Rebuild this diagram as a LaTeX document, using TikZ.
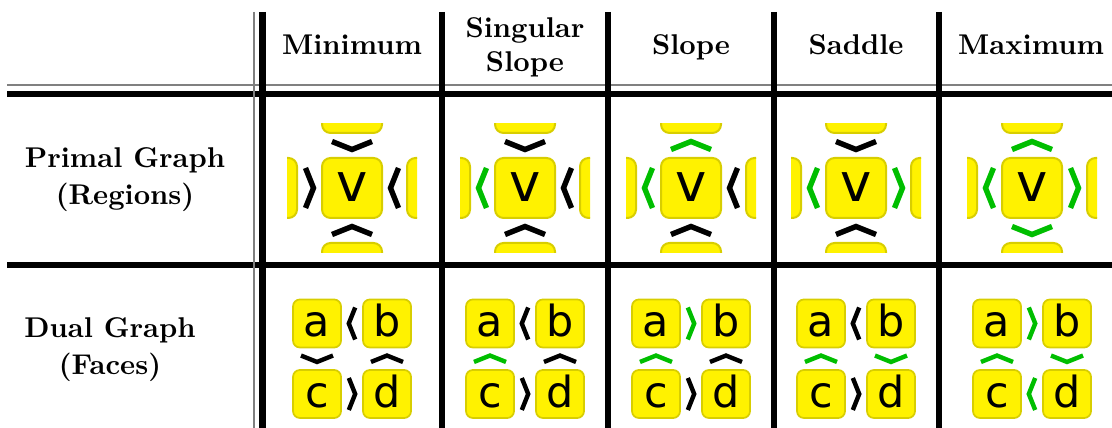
\documentclass[tikz,border=0pt]{standalone}
\usepackage{fontspec}
\newfontfamily\vfont{DejaVu Sans}
\usetikzlibrary{calc}

\definecolor{chevgreen}{RGB}{0,190,0}
\definecolor{boxedge}{RGB}{216,206,0}

% chevron at a point: base angle points towards the centre, flag 1 turns it round (green)
\newcommand{\drawchev}[4]{%
  \ifnum#3=1 \def\chevcol{chevgreen}\else\def\chevcol{black}\fi
  \draw[draw=\chevcol,shift={(#1)},rotate=#2+180*#3,#4] (-20,-4) -- (0,4) -- (20,-4);}

\begin{document}
\begin{tikzpicture}[x=0.35pt,y=-0.35pt,
  vbox/.style={draw=boxedge,fill=yellow,line width=0.7pt,rounded corners=3pt,
    minimum size=21pt,inner sep=0pt,text height=9.8pt,text depth=0pt,
    font=\vfont\fontsize{18.5}{20}\selectfont},
  fbox/.style={draw=boxedge,fill=yellow,line width=0.6pt,rounded corners=2.4pt,
    minimum size=16.8pt,inner sep=0pt,text height=9.45pt,text depth=0pt,
    font=\vfont\fontsize{15}{18}\selectfont},
  pchev/.style={line width=1.9pt},
  dchev/.style={line width=1.55pt,scale=0.8},
  thick rule/.style={line width=2.2pt},
  thin rule/.style={gray,line width=0.45pt},
  head/.style={font=\bfseries,anchor=base},
  rowlabel/.style={font=\bfseries,align=center}]
\useasboundingbox (0,0) rectangle (1112,428);

  %% righe e colonne della tabella
  \draw[thin rule] (7,85) -- (1112,85);
  \draw[thick rule] (7,94) -- (1112,94);
  \draw[thick rule] (7,265) -- (1112,265);
  \draw[thin rule] (254,12) -- (254,428);
  \foreach \x in {262.5,442,608,774,939} \draw[thick rule] (\x,12) -- (\x,428);

  %% intestazioni
  \node[head] (hmin) at (352,55) {Minimum};
  \node[rowlabel] (hsing) at (525,47.5) {Singular\\Slope};
  \node[head] (hslope) at (691,55) {Slope};
  \node[head] (hsad) at (856,55) {Saddle};
  \node[head] (hmax) at (1031,55) {Maximum};
  \node[rowlabel] (lprim) at (125,180) {Primal Graph\\[1pt](Regions)};
  \node[rowlabel] (ldual) at (110,350) {Dual Graph\\[1pt](Faces)};

  %% celle: centro colonna / flag dei quattro chevron
  \foreach \cx/\fa/\fb/\fc/\fd [count=\i] in
      {352/0/0/0/0,525/0/1/0/0,691/1/1/0/0,856/0/1/1/0,1032/1/1/1/1}{
    % grafo primale: regione v e vicini tagliati
    \node[vbox] (v\i) at (\cx,188) {v};
    \begin{scope}
      \clip (\cx-65,124) rectangle (\cx+65,253);
      \node[vbox] (vt\i) at (\cx,103) {};
      \node[vbox] (vl\i) at (\cx-85,188) {};
      \node[vbox] (vr\i) at (\cx+85,188) {};
      \node[vbox] (vb\i) at (\cx,273) {};
    \end{scope}
    \drawchev{$(v\i)!.5!(vt\i)$}{0}{\fa}{pchev}
    \drawchev{$(v\i)!.5!(vl\i)$}{90}{\fb}{pchev}
    \drawchev{$(v\i)!.5!(vr\i)$}{-90}{\fc}{pchev}
    \drawchev{$(v\i)!.5!(vb\i)$}{180}{\fd}{pchev}
    % grafo duale: facce a b c d
    \node[fbox] (a\i) at (\cx-35,323.5) {a};
    \node[fbox] (b\i) at (\cx+35,323.5) {b};
    \node[fbox] (c\i) at (\cx-35,394) {c};
    \node[fbox] (d\i) at (\cx+35,394) {d};
    \drawchev{$(a\i)!.5!(b\i)$}{-90}{\fa}{dchev}
    \drawchev{$(a\i)!.5!(c\i)$}{0}{\fb}{dchev}
    \drawchev{$(b\i)!.5!(d\i)$}{180}{\fc}{dchev}
    \drawchev{$(c\i)!.5!(d\i)$}{90}{\fd}{dchev}
  }
\end{tikzpicture}
\end{document}
